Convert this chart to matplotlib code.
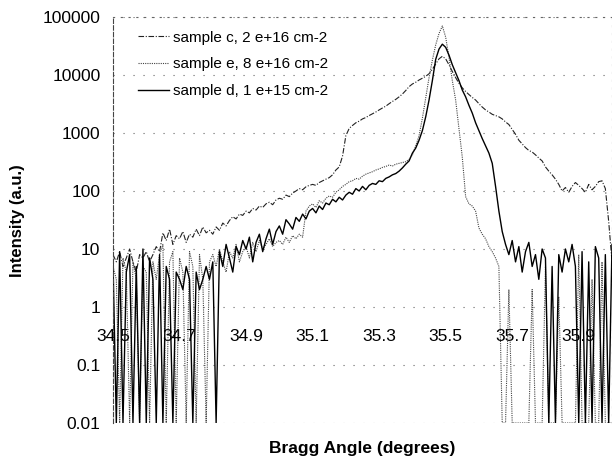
import numpy as np
import matplotlib
matplotlib.use('Agg')
import matplotlib.pyplot as plt
from matplotlib.ticker import FixedLocator, NullLocator

plt.rcParams['font.family'] = ['Liberation Sans', 'DejaVu Sans']

# Bragg angle grid (degrees), one reading every 0.01 deg from 34.50 to 36.00
angle = np.round(np.linspace(34.5, 36.0, 151), 2)

# sample c, 2 e+16 cm-2 (rows of 10 points)
sample_c = [
    8, 6, 9, 5, 7, 10, 6, 4, 8, 7,                       # 34.50
    9, 6, 8, 11, 9, 19, 14, 22, 12, 17,                  # 34.60
    15, 20, 13, 18, 16, 22, 17, 24, 19, 21,              # 34.70
    18, 24, 21, 28, 25, 31, 36, 33, 40, 38,              # 34.80
    45, 42, 50, 47, 55, 52, 60, 64, 58, 70,              # 34.90
    75, 72, 85, 80, 92, 100, 110, 105, 118, 125,         # 35.00
    130, 125, 140, 150, 160, 170, 190, 230, 260, 400,    # 35.10
    900, 1200, 1350, 1500, 1600, 1750, 1850, 2000, 2150, 2300,        # 35.20
    2500, 2700, 2900, 3200, 3500, 3800, 4200, 4700, 5400, 6300,       # 35.30
    7000, 7500, 8200, 8800, 9500, 10500, 12500, 15500, 19000, 21000,  # 35.40
    19000, 15000, 11500, 9000, 7200, 6000, 5200, 4600, 4100, 3700,   # 35.50
    3200, 2800, 2500, 2300, 2100, 2000, 1900, 1750, 1550, 1400,      # 35.60
    1150, 950, 750, 650, 560, 500, 470, 420, 370, 330,   # 35.70
    260, 220, 190, 160, 130, 100, 115, 95, 120, 140,     # 35.80
    125, 110, 95, 130, 105, 120, 145, 150, 110, 30, 6,   # 35.90
]

# sample e, 8 e+16 cm-2
sample_e = [
    5, 3, 0.01, 7, 4, 0.01, 6, 3, 0.01, 5,
    4, 0.01, 6, 3, 8, 12, 0.01, 6, 9, 0.01,
    7, 4, 0.01, 9, 5, 0.01, 8, 3, 0.01, 6,
    8, 5, 10, 6, 4, 9, 7, 12, 6, 9,
    11, 7, 13, 9, 14, 10, 12, 15, 11, 13,
    14, 12, 16, 13, 17, 15, 18, 16, 45, 55,
    60, 52, 68, 62, 75, 82, 78, 95, 105, 120,
    130, 145, 150, 165, 160, 180, 195, 205, 215, 230,
    240, 255, 265, 280, 270, 290, 300, 310, 320, 350,
    420, 600, 900, 1800, 4000, 9000, 18000, 33000, 52000, 70000,
    45000, 20000, 8000, 3700, 1200, 380, 80, 60, 55, 45,
    23, 18, 15, 11, 9, 7, 5, 0.01, 0.01, 2,
    0.01, 0.01, 0.01, 0.01, 0.01, 0.01, 2, 0.01, 0.01, 0.01,
    5, 0.01, 0.01, 0.01, 1.5, 0.01, 0.01, 0.01, 0.01, 0.01,
    8, 0.01, 0.01, 0.01, 3, 0.01, 0.01, 6, 0.01, 0.01, 0.01,
]

# sample d, 1 e+15 cm-2
sample_d = [
    6, 0.01, 9, 0.01, 4, 8, 0.01, 5, 0.01, 10,
    0.01, 7, 3, 0.01, 8, 0.01, 5, 3, 0.01, 4,
    3, 2, 5, 3, 0.01, 4, 2, 3, 5, 3,
    6, 0.01, 9, 5, 12, 7, 4, 11, 8, 14,
    10, 16, 6, 13, 18, 9, 15, 22, 12, 20,
    25, 18, 32, 27, 22, 35, 30, 40, 33, 45,
    50, 42, 55, 48, 62, 58, 72, 65, 78, 70,
    85, 95, 88, 110, 100, 120, 105, 125, 135, 130,
    150, 145, 165, 175, 190, 200, 220, 250, 290, 330,
    450, 550, 750, 1100, 1900, 3700, 8000, 18600, 28000, 34000,
    30000, 22000, 15000, 11000, 8000, 5500, 4200, 3000, 2200, 1500,
    1100, 800, 600, 450, 300, 120, 45, 20, 12, 8,
    14, 6, 11, 4, 9, 13, 5, 8, 3, 10,
    7, 0.01, 5, 0.01, 8, 4, 10, 6, 12, 5,
    0.01, 9, 0.01, 6, 0.01, 11, 7, 0.01, 8, 0.01, 12,
]

labels = ['sample c, 2 e+16 cm-2', 'sample e, 8 e+16 cm-2', 'sample d, 1 e+15 cm-2']
x_ticks = [34.5, 34.7, 34.9, 35.1, 35.3, 35.5, 35.7, 35.9]
y_ticks = [0.01, 0.1, 1, 10, 100, 1000, 10000, 100000]
y_ticklabels = ['0.01', '0.1', '1', '10', '100', '1000', '10000', '100000']

fig = plt.figure(figsize=(6.12, 4.62), dpi=100)
ax = fig.add_axes([113 / 612, 1 - 423 / 462, 499 / 612, 406 / 462])

ax.plot(angle, sample_c, color='#222222', lw=0.8, ls=(0, (5, 1.5, 1, 1.5)), label=labels[0])
ax.plot(angle, sample_e, color='#444444', lw=0.8, ls=(0, (1, 1)), label=labels[1])
ax.plot(angle, sample_d, color='black', lw=1.0, ls='-', label=labels[2])

ax.set_yscale('log')
ax.set_ylim(0.01, 100000)
ax.set_xlim(34.5, 36.0)

ax.yaxis.set_major_locator(FixedLocator(y_ticks))
ax.yaxis.set_minor_locator(NullLocator())
ax.set_yticklabels(y_ticklabels)
ax.set_xticks(x_ticks)
ax.set_xticklabels([f'{t:.1f}' for t in x_ticks])

# x axis crosses the value axis at 1, the way the spreadsheet drew it
ax.spines['bottom'].set_position(('data', 1))
ax.spines['bottom'].set_visible(False)
ax.tick_params(axis='x', length=0, pad=16, labelsize=12.5)
ax.tick_params(axis='y', length=0, pad=9, labelsize=12.5)

ax.grid(axis='y', color='#666666', lw=0.8, ls=(0, (1, 8)))
ax.spines['left'].set_linestyle((0, (4, 2)))
ax.spines['left'].set_color('#444444')
ax.spines['left'].set_linewidth(0.8)
for side in ['top', 'right']:
    ax.spines[side].set_linestyle((0, (1, 6)))
    ax.spines[side].set_color('#666666')
    ax.spines[side].set_linewidth(0.8)

ax.legend(loc='upper left', bbox_to_anchor=(0.05, 0.966), frameon=False,
          fontsize=11, handlelength=2.0, handletextpad=0.3, labelspacing=0.82,
          borderpad=0, borderaxespad=0)

fig.text(362 / 612, 1 - 448 / 462, 'Bragg Angle (degrees)', ha='center', va='center',
         fontsize=12.5, fontweight='bold')
fig.text(18 / 612, 1 - 221 / 462, 'Intensity (a.u.)', ha='center', va='center',
         rotation=90, fontsize=12, fontweight='bold')

fig.savefig('out.png', dpi=100)
